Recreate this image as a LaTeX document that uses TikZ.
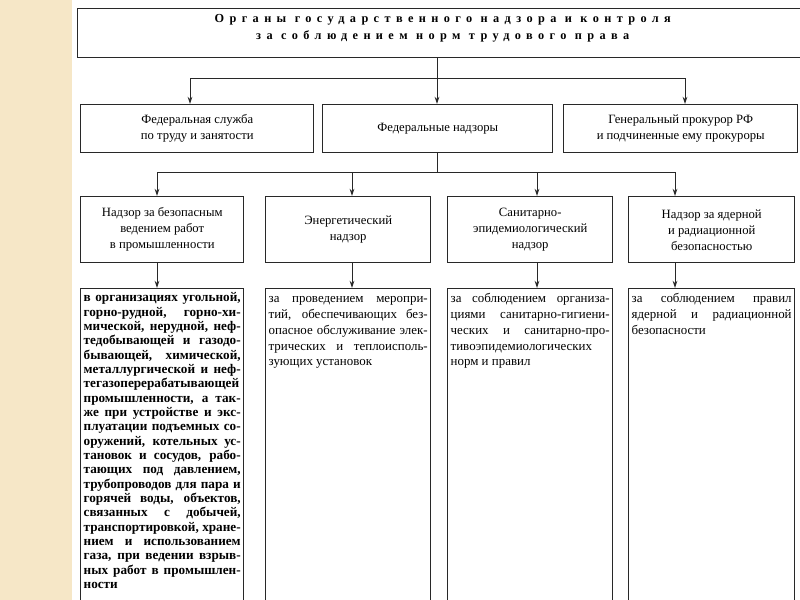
\documentclass[tikz,border=0pt]{standalone}
\usepackage{fontspec}
\setmainfont{Liberation Serif}
\usetikzlibrary{arrows.meta}
\definecolor{beige}{RGB}{246,231,199}
\definecolor{lineg}{RGB}{40,40,40}
\begin{document}
\begin{tikzpicture}[x=0.75pt,y=-0.75pt,
  box/.style={draw=lineg, line width=1.1pt, fill=white, inner sep=0pt, align=center,
    anchor=north west, font=\fontsize{9.5}{12}\selectfont},
  titletext/.style={align=center, inner sep=0pt,
    font=\bfseries\fontsize{9.2}{12.75}\selectfont\addfontfeatures{LetterSpace=44}},
  detail/.style={draw=lineg, line width=1.1pt, fill=white, inner xsep=2.2pt,
    inner ysep=2.4pt, anchor=north west},
  arr/.style={-{Stealth[length=5.5pt,width=3.6pt]}, line width=0.7pt, draw=lineg},
  ln/.style={line width=0.7pt, draw=lineg}]
\useasboundingbox (0,0) rectangle (800,600);
\fill[white] (0,0) rectangle (800,600);
\fill[beige] (0,0) rectangle (72,600);

% top
\node[box, minimum width=547.5pt, minimum height=36.75pt] (top) at (77,8) {};
\node[titletext] (title) at ([yshift=4.0pt]top.center)
  {Органы государственного надзора и контроля\\
   за соблюдением норм трудового права};

% row 2
\node[box, minimum width=174.75pt, minimum height=36pt] (fs) at (80,104)
  {Федеральная служба\\по труду и занятости};
\node[box, minimum width=172.5pt, minimum height=36pt] (fn) at (322,104)
  {Федеральные надзоры};
\node[box, minimum width=175.5pt, minimum height=36pt] (gp) at (563,104)
  {Генеральный прокурор РФ\\и подчиненные ему прокуроры};

% row 3
\node[box, minimum width=122.25pt, minimum height=49.5pt] (na) at (80,196)
  {Надзор за безопасным\\ведением работ\\в промышленности};
\node[box, minimum width=123.75pt, minimum height=49.5pt] (nb) at (265,196)
  {Энергетический\\надзор};
\node[box, minimum width=123.75pt, minimum height=49.5pt] (nc) at (447,196)
  {Санитарно-\\эпидемиологический\\надзор};
\node[box, minimum width=124.5pt, minimum height=49.5pt] (nd) at (628,196)
  {Надзор за ядерной\\и радиационной\\безопасностью};

% row 4
\node[detail] (da) at (80,288)
  {\parbox[t][250pt][t]{117.8pt}{\bfseries\fontsize{9.9}{10.75}\selectfont
   \hyphenpenalty=10000\exhyphenpenalty=10000\tolerance=10000\hbadness=10000
   \strut в организациях угольной,\linebreak
   горно-рудной, горно-хи-\linebreak
   мической, нерудной, неф-\linebreak
   тедобывающей и газодо-\linebreak
   бывающей, химической,\linebreak
   металлургической и неф-\linebreak
   тегазоперерабатывающей\linebreak
   промышленности, а так-\linebreak
   же при устройстве и экс-\linebreak
   плуатации подъемных со-\linebreak
   оружений, котельных ус-\linebreak
   тановок и сосудов, рабо-\linebreak
   тающих под давлением,\linebreak
   трубопроводов для пара и\linebreak
   горячей воды, объектов,\linebreak
   связанных с добычей,\linebreak
   транспортировкой, хране-\linebreak
   нием и использованием\linebreak
   газа, при ведении взрыв-\linebreak
   ных работ в промышлен-\linebreak
   ности}};
\node[detail] (db) at (265,288)
  {\parbox[t][250pt][t]{119.3pt}{\fontsize{9.7}{11.8}\selectfont
   \hyphenpenalty=10000\exhyphenpenalty=10000\tolerance=10000\hbadness=10000
   \strut за проведением меропри-\linebreak
   тий, обеспечивающих без-\linebreak
   опасное обслуживание элек-\linebreak
   трических и теплоисполь-\linebreak
   зующих установок}};
\node[detail] (dc) at (447,288)
  {\parbox[t][250pt][t]{119.3pt}{\fontsize{9.7}{11.8}\selectfont
   \hyphenpenalty=10000\exhyphenpenalty=10000\tolerance=10000\hbadness=10000
   \strut за соблюдением организа-\linebreak
   циями санитарно-гигиени-\linebreak
   ческих и санитарно-про-\linebreak
   тивоэпидемиологических\linebreak
   норм и правил}};
\node[detail] (dd) at (628,288)
  {\parbox[t][250pt][t]{120pt}{\fontsize{9.7}{11.8}\selectfont
   \hyphenpenalty=10000\exhyphenpenalty=10000\tolerance=10000\hbadness=10000
   \strut за соблюдением правил\linebreak
   ядерной и радиационной\linebreak
   безопасности}};

% junction coordinates
\coordinate (j1) at (437,78);
\coordinate (l1) at (190,78);
\coordinate (r1) at (685,78);
\coordinate (j2) at (437,172);
\coordinate (xa) at (157,172);
\coordinate (xb) at (352,172);
\coordinate (xc) at (537,172);
\coordinate (xd) at (675,172);

\draw[ln] (top.south -| j1) -- (j1);
\draw[ln] (l1) -- (r1);
\draw[arr] (l1) -- (l1 |- fs.north);
\draw[arr] (j1) -- (j1 |- fn.north);
\draw[arr] (r1) -- (r1 |- gp.north);

\draw[ln] (fn.south -| j2) -- (j2);
\draw[ln] (xa) -- (xd);
\draw[arr] (xa) -- (xa |- na.north);
\draw[arr] (xb) -- (xb |- nb.north);
\draw[arr] (xc) -- (xc |- nc.north);
\draw[arr] (xd) -- (xd |- nd.north);

\draw[arr] (na.south -| xa) -- (da.north -| xa);
\draw[arr] (nb.south -| xb) -- (db.north -| xb);
\draw[arr] (nc.south -| xc) -- (dc.north -| xc);
\draw[arr] (nd.south -| xd) -- (dd.north -| xd);
\end{tikzpicture}
\end{document}
